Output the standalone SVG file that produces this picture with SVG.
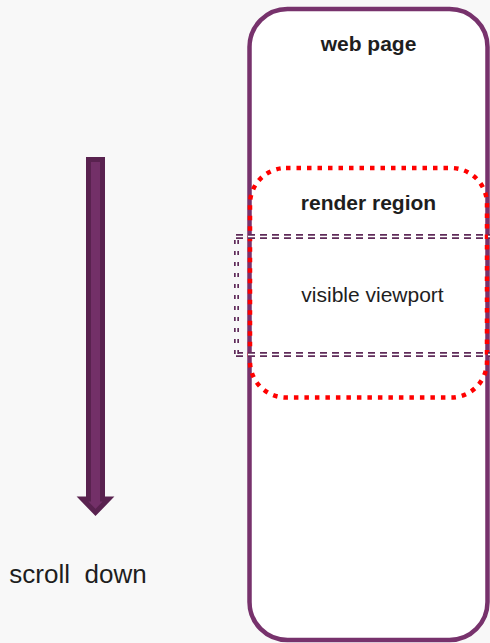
<svg xmlns="http://www.w3.org/2000/svg" width="490" height="643" viewBox="0 0 490 643">
<style>
.lbl{font-family:"Liberation Sans",Arial,sans-serif;fill:#1e1e1e;text-anchor:middle}
.b{font-weight:bold;font-size:21px}
.r{font-size:21px}
.vo{stroke:#5f2b59;stroke-width:5;fill:none}
.vi{stroke:#ffffff;stroke-width:1.6;fill:none}
.h{stroke-dasharray:7 5}
.v{stroke-dasharray:4 7}
</style>
<rect width="490" height="643" fill="#f8f8f8"/>
<g id="web-page">
<rect x="249.5" y="9" width="238" height="631" rx="38" fill="#ffffff" stroke="#77326c" stroke-width="4.5"/>
<text class="lbl b" x="368.5" y="51">web page</text>
</g>
<g id="render-region">
<rect x="250" y="168" width="237" height="229.5" rx="36" fill="none" stroke="#ff0000" stroke-width="4.5" stroke-dasharray="4.5 6"/>
<text class="lbl b" x="368.5" y="210">render region</text>
</g>
<g id="visible-viewport">
<line class="vo h" x1="236" y1="236.5" x2="492" y2="236.5"/>
<line class="vi h" x1="236" y1="236.5" x2="492" y2="236.5"/>
<line class="vo h" x1="236" y1="354.5" x2="492" y2="354.5"/>
<line class="vi h" x1="236" y1="354.5" x2="492" y2="354.5"/>
<line class="vo v" x1="236.5" y1="240" x2="236.5" y2="354"/>
<line class="vi v" x1="236.5" y1="240" x2="236.5" y2="354"/>
<text class="lbl r" x="372.5" y="302">visible viewport</text>
</g>
<g id="scroll-arrow">
<polygon points="88.5,159.5 102.5,159.5 102.5,499 108.5,499 95.5,512.5 82.5,499 88.5,499" fill="#733068" stroke="#59224f" stroke-width="5" stroke-linejoin="miter"/>
<text class="lbl" x="78" y="583" style="font-size:26px" xml:space="preserve">scroll  down</text>
</g>
<g id="connectors"></g>
</svg>
